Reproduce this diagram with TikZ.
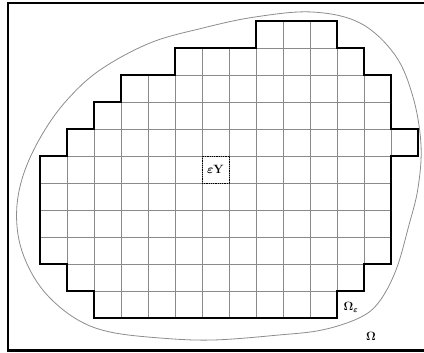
\documentclass[tikz,border=0pt]{standalone}
\usepackage{tikz}
\usepackage{xcolor}
\usetikzlibrary{positioning}
\definecolor{gridgray}{HTML}{8A8A8A}
\definecolor{curvegray}{HTML}{8C8C8C}
\tikzset{
    frameline/.style={line width=2.4pt, black},
    gridline/.style={line width=0.8pt, gridgray},
    boundary/.style={line width=1.8pt, black, line join=miter},
    outerline/.style={line width=0.8pt, curvegray},
    cellbox/.style={draw, densely dotted, line width=0.8pt, minimum size=27pt, inner sep=0pt, font=\large\boldmath},
    lbl/.style={font=\large\boldmath, inner sep=0pt},
}
% staircase boundary of Omega_eps, in cell units
\def\omegaeps{(8,0) -- (11,0) -- (11,1) -- (12,1) -- (12,2) -- (13,2) -- (13,4) -- (14,4) -- (14,5)
    -- (13,5) -- (13,9) -- (12,9) -- (12,10) -- (11,10) -- (11,11) -- (2,11) -- (2,10) -- (1,10)
    -- (1,9) -- (0,9) -- (0,5) -- (1,5) -- (1,4) -- (2,4) -- (2,3) -- (3,3) -- (3,2) -- (5,2)
    -- (5,1) -- (8,1) -- cycle}
\begin{document}
\begin{tikzpicture}[x=1pt, y=-1pt]
\useasboundingbox (0,0) rectangle (424,353);

% frame (right side cut off)
\draw[frameline] (430,3) -- (8,3) -- (8,350.5) -- (430,350.5);

% Omega
\draw[outerline] plot[smooth cycle, tension=0.6] coordinates {
    (312,12) (360,23) (395,55) (413,97) (421,145) (418,188) (409,225) (396,270)
    (379,302) (359,318) (322,330) (279,335) (213,340) (160,338) (110,332) (78,320)
    (50,298) (31,272) (19,240) (17,205) (25,170) (43,133) (67,100) (100,70)
    (150,43) (203,28) (255,17)};

% Omega_eps: cells and boundary
\begin{scope}[shift={(40,21)}, x=27pt, y=-27pt]
  \begin{scope}
    \clip \omegaeps;
    \foreach \i in {1,...,13}
      \draw[gridline] (\i,0) -- (\i,11);
    \foreach \j in {1,...,10}
      \draw[gridline] (0,\j) -- (14,\j);
  \end{scope}
  \draw[boundary] \omegaeps;
  \node[cellbox] (unitcell) at (6.5,5.5) {$\varepsilon\mathbf{Y}$};
\end{scope}

\node[lbl] (omegaeps) at (351,307) {$\Omega_\varepsilon$};
\node[lbl] (omega) at (371,336) {$\Omega$};

\end{tikzpicture}
\end{document}
